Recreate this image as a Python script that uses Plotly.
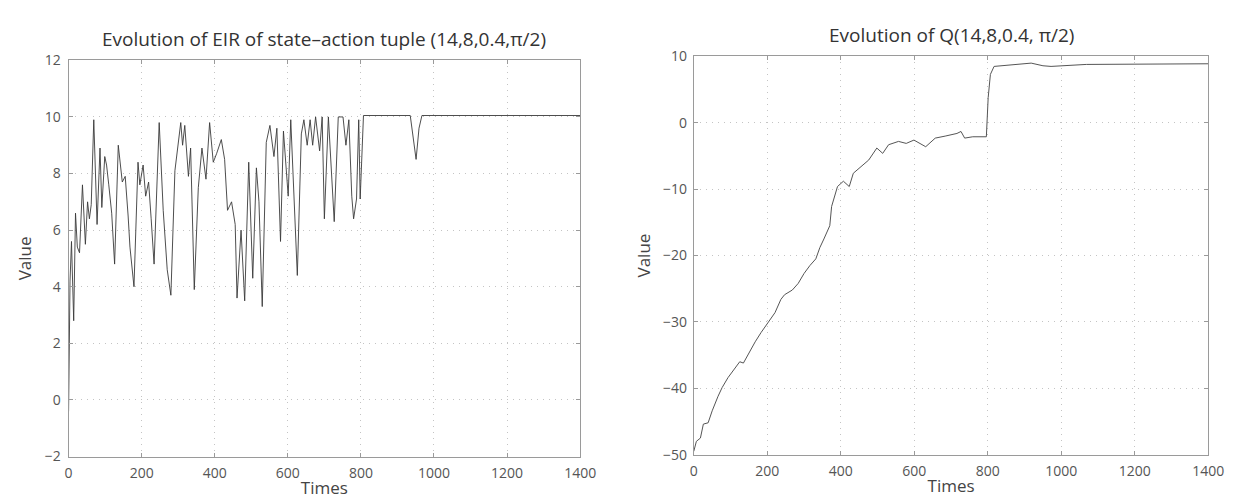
import plotly.graph_objects as go

# ---- Left panel: EIR of state-action tuple (14,8,0.4,pi/2) ----
eir_t = [0, 4, 8, 14, 19, 24, 30, 38, 46, 52, 57, 62, 69, 78, 86, 91, 99, 104, 110, 118, 126,
         136, 147, 155, 163, 168, 179, 190, 195, 204, 211, 219, 226, 234, 248, 259, 270, 280,
         291, 307, 312, 318, 328, 334, 344, 355, 365, 376, 386, 396, 405, 418, 427, 435, 446,
         456, 461, 472, 482, 493, 504, 514, 521, 530, 541, 551, 562, 570, 580, 588, 601, 608,
         626, 637, 644, 653, 661, 668, 676, 687, 694, 700, 711, 721, 727, 738, 751, 759, 767,
         775, 780, 788, 794, 798, 807, 935, 943, 951, 959, 967, 1400]
eir_v = [-0.4, 4.2, 5.6, 2.8, 6.6, 5.4, 5.2, 7.6, 5.5, 7.0, 6.4, 6.9, 9.9, 6.2, 8.9, 6.8, 8.6,
         8.3, 7.6, 6.6, 4.8, 9.0, 7.7, 7.9, 6.5, 5.4, 4.0, 8.4, 7.6, 8.3, 7.2, 7.7, 6.4, 4.8,
         9.8, 6.7, 4.6, 3.7, 8.1, 9.8, 9.0, 9.7, 7.9, 8.9, 3.9, 7.5, 8.9, 7.8, 9.8, 8.4, 8.7,
         9.2, 8.5, 6.7, 7.0, 6.2, 3.6, 6.0, 3.5, 8.4, 4.3, 8.2, 7.0, 3.3, 9.1, 9.7, 8.6, 9.6,
         5.6, 9.5, 7.2, 9.9, 4.4, 9.4, 9.9, 9.0, 9.9, 9.0, 10.0, 8.8, 10.0, 6.4, 10.0, 7.5,
         6.3, 10.0, 10.0, 9.0, 9.9, 7.2, 6.4, 7.1, 9.9, 7.1, 10.05, 10.05, 9.3, 8.5, 9.6,
         10.05, 10.05]

# ---- Right panel: Q(14,8,0.4,pi/2) ----
q_t = [0, 7, 18, 26, 39, 50, 66, 77, 93, 109, 125, 135, 151, 167, 183, 205, 221, 237, 247, 268,
       284, 300, 316, 332, 343, 354, 370, 375, 391, 407, 423, 434, 455, 476, 498, 514, 530, 557,
       578, 599, 631, 657, 684, 716, 727, 737, 759, 796, 801, 807, 817, 855, 918, 950, 972,
       1068, 1400]
q_v = [-49.5, -48.0, -47.5, -45.4, -45.2, -43.4, -41.2, -39.9, -38.4, -37.2, -36.0, -36.2,
       -34.5, -33.0, -31.6, -29.9, -28.6, -26.6, -25.9, -25.2, -24.2, -22.7, -21.5, -20.5,
       -18.8, -17.5, -15.5, -12.6, -9.6, -8.8, -9.6, -7.6, -6.6, -5.6, -3.8, -4.6, -3.3, -2.8,
       -3.1, -2.6, -3.6, -2.3, -2.0, -1.6, -1.3, -2.3, -2.1, -2.1, 3.8, 7.3, 8.5, 8.7, 9.0,
       8.6, 8.5, 8.8, 8.9]

titles = ["Evolution of EIR of state\u2013action tuple (14,8,0.4,\u03c0/2)",
          "Evolution of Q(14,8,0.4, \u03c0/2)"]
x_ticks = [0, 200, 400, 600, 800, 1000, 1200, 1400]
left_y_ticks = [-2, 0, 2, 4, 6, 8, 10, 12]
right_y_ticks = [-50, -40, -30, -20, -10, 0, 10]

W, H = 1237, 497
FONT = "Open Sans"

fig = go.Figure()
fig.add_trace(go.Scatter(x=eir_t, y=eir_v, mode="lines", xaxis="x", yaxis="y",
                         line=dict(color="#3a3a3a", width=0.9), showlegend=False))
fig.add_trace(go.Scatter(x=q_t, y=q_v, mode="lines", xaxis="x2", yaxis="y2",
                         line=dict(color="#555555", width=1), showlegend=False))

axis_common = dict(showline=True, linecolor="#9a9a9a", linewidth=1, mirror="ticks",
                   ticks="inside", ticklen=4, tickcolor="#9a9a9a",
                   showgrid=True, gridcolor="#c4c4c4", griddash="1px,5px", gridwidth=1,
                   zeroline=False, tickfont=dict(family=FONT, size=14, color="#555555"),
                   title_font=dict(family=FONT, size=17, color="#444444"))

fig.update_layout(
    width=W, height=H, margin=dict(l=0, r=0, t=0, b=0),
    paper_bgcolor="white", plot_bgcolor="white",
    xaxis=dict(domain=[57.5 / W, 577.5 / W], range=[0, 1400], tickvals=x_ticks,
               anchor="y", title_text="Times", title_standoff=0, ticklabelstandoff=4,
               **axis_common),
    yaxis=dict(domain=[1 - 456 / H, 1 - 44 / H], range=[-2, 12], tickvals=left_y_ticks,
               anchor="x", title_text="Value", title_standoff=8, ticklabelstandoff=4,
               **axis_common),
    xaxis2=dict(domain=[693 / W, 1216 / W], range=[0, 1400], tickvals=x_ticks,
                anchor="y2", title_text="Times", title_standoff=0, ticklabelstandoff=4,
                **axis_common),
    yaxis2=dict(domain=[1 - 454 / H, 1 - 40 / H], range=[-50, 10], tickvals=right_y_ticks,
                anchor="x2", title_text="Value", title_standoff=8, ticklabelstandoff=3,
                **axis_common),
    annotations=[
        dict(text=titles[0], x=317 / W, y=1 - 22 / H, xref="paper", yref="paper",
             xanchor="center", yanchor="middle", showarrow=False,
             font=dict(family=FONT, size=19, color="#333333")),
        dict(text=titles[1], x=955 / W, y=1 - 18 / H, xref="paper", yref="paper",
             xanchor="center", yanchor="middle", showarrow=False,
             font=dict(family=FONT, size=19, color="#333333")),
    ],
)

fig.write_html("out.html")
